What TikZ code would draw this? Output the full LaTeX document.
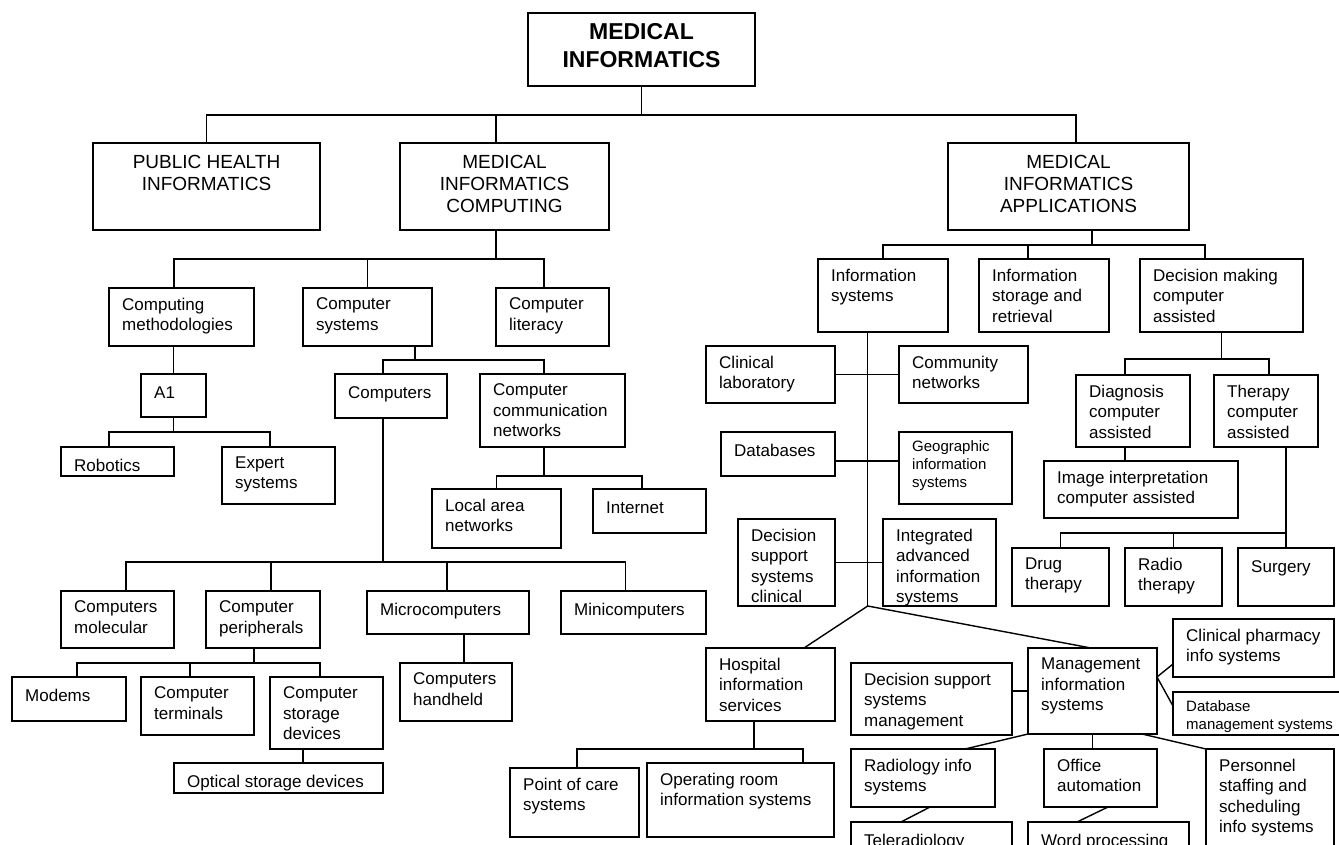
\documentclass[tikz,border=0pt]{standalone}
\usepackage{fontspec}
\setmainfont{Liberation Sans}
\newcommand{\fntN}{\fontsize{17}{20.5}\selectfont}
\newcommand{\fntS}{\fontsize{15}{18}\selectfont}
\newcommand{\fntH}{\fontsize{19}{22}\selectfont}
\newcommand{\fntT}{\bfseries\fontsize{23}{28}\selectfont}
\tikzset{
  box/.style={draw, line width=1.4pt, inner sep=0pt, outer sep=0pt, anchor=north west},
  lbl/.style={anchor=north west, inner sep=0pt, xshift=13pt, yshift=-9.6pt, align=left, font=\fntN, execute at begin node=\strut},
  lbs/.style={anchor=north west, inner sep=0pt, xshift=13pt, yshift=-8.6pt, align=left, font=\fntS, execute at begin node=\strut},
  hdl/.style={anchor=north, inner sep=0pt, yshift=-11.6pt, align=center, font=\fntH, execute at begin node=\strut},
  ttl/.style={anchor=north, inner sep=0pt, yshift=-10.1pt, align=center, font=\fntT, execute at begin node=\strut},
  con/.style={line width=1.4pt}
}
% box with top-left text: [label style]{name}{x1}{y1}{x2}{y2}{text}
\newcommand{\bx}[7][lbl]{\node[box, minimum width={(#5-#3)*1pt}, minimum height={(#6-#4)*1pt}, label={[#1]north west:{#7}}] (#2) at (#3pt,-#4pt) {};}
% box with centred heading text
\newcommand{\tb}[7][hdl]{\node[box, minimum width={(#5-#3)*1pt}, minimum height={(#6-#4)*1pt}, label={[#1]north:{#7}}] (#2) at (#3pt,-#4pt) {};}
\begin{document}
\begin{tikzpicture}
\useasboundingbox (0,0) rectangle (1339pt,-845pt);
\fill[white] (0,0) rectangle (1339pt,-845pt);
\clip (0,0) rectangle (1339pt,-845pt);

% ---------- top levels ----------
\tb[ttl]{mi}{528}{13}{755}{86}{MEDICAL\\INFORMATICS}
\tb{ph}{93}{143}{320}{230}{PUBLIC HEALTH\\INFORMATICS}
\tb{mic}{400}{143}{609}{230}{MEDICAL\\INFORMATICS\\COMPUTING}
\tb{mia}{948}{143}{1189}{230}{MEDICAL\\INFORMATICS\\APPLICATIONS}

% ---------- computing branch ----------
\bx{cm}{109}{288}{254}{346}{Computing\\methodologies}
\bx{cs}{303}{288}{432}{346}{Computer\\systems}
\bx{cl}{496}{288}{609}{346}{Computer\\literacy}
\bx{a1}{141}{374}{206}{417}{A1}
\bx{rob}{61}{447}{174}{476}{Robotics}
\bx{exp}{222}{447}{335}{504}{Expert\\systems}
\bx{comp}{335}{374}{447}{418}{Computers}
\bx{ccn}{480}{374}{625}{447}{Computer\\communication\\networks}
\bx{lan}{432}{489}{561}{548}{Local area\\networks}
\bx{inet}{593}{489}{706}{533}{Internet}
\bx{cmol}{61}{591}{174}{648}{Computers\\molecular}
\bx{cper}{206}{591}{320}{648}{Computer\\peripherals}
\bx{micro}{367}{591}{529}{634}{Microcomputers}
\bx{mini}{561}{591}{706}{634}{Minicomputers}
\bx{modems}{12}{677}{126}{721}{Modems}
\bx{cterm}{141}{677}{254}{735}{Computer\\terminals}
\bx{cstor}{270}{677}{383}{749}{Computer\\storage\\devices}
\bx{optical}{174}{763}{383}{793}{Optical storage devices}
\bx{hand}{400}{663}{512}{721}{Computers\\handheld}

% ---------- applications branch ----------
\bx{is}{818}{259}{948}{332}{Information\\systems}
\bx{isr}{979}{259}{1109}{332}{Information\\storage and\\retrieval}
\bx{dm}{1140}{259}{1303}{332}{Decision making\\computer\\assisted}
\bx{clab}{706}{346}{835}{403}{Clinical\\laboratory}
\bx{comm}{899}{346}{1028}{403}{Community\\networks}
\bx{db}{721}{432}{835}{476}{Databases}
\bx[lbs]{geo}{899}{432}{1012}{504}{Geographic\\information\\systems}
\bx{dssc}{738}{519}{835}{606}{Decision\\support\\systems\\clinical}
\bx{integ}{883}{519}{996}{606}{Integrated\\advanced\\information\\systems}
\bx{hosp}{706}{648}{835}{721}{Hospital\\information\\services}
\bx{poc}{510}{768}{639}{837}{Point of care\\systems}
\bx{orm}{647}{763}{834}{837}{Operating room\\information systems}
\bx{dssm}{851}{663}{1012}{735}{Decision support\\systems\\management}
\bx{mis}{1028}{648}{1157}{734}{Management\\information\\systems}
\bx{cp}{1173}{619}{1334}{677}{Clinical pharmacy\\info systems}
\bx[lbs]{dbm}{1173}{692}{1345}{735}{Database\\management systems}
\bx{rad}{851}{749}{995}{807}{Radiology info\\systems}
\bx{off}{1044}{749}{1157}{807}{Office\\automation}
\bx{pers}{1206}{749}{1334}{870}{Personnel\\staffing and\\scheduling\\info systems}
\bx{tele}{851}{822}{1012}{880}{Teleradiology}
\bx{wp}{1028}{822}{1189}{880}{Word processing}
\bx{diagc}{1076}{375}{1190}{447}{Diagnosis\\computer\\assisted}
\bx{ther}{1214}{375}{1318}{447}{Therapy\\computer\\assisted}
\bx{img}{1044}{461}{1238}{518}{Image interpretation\\computer assisted}
\bx{drug}{1012}{548}{1109}{606}{Drug\\therapy}
\bx{radio}{1125}{548}{1222}{606}{Radio\\therapy}
\bx{surg}{1238}{548}{1334}{606}{Surgery}

% ---------- connectors ----------
\begin{scope}[con]
% top
\draw (mi.south) -- ++(0,-29pt);
\draw (ph.north) -- ++(0,28pt) -| ([xshift=7.5pt]mia.north);
\draw ([xshift=-8.5pt]mic.north) -- ++(0,28pt);
% computing
\draw ([xshift=-8.5pt]mic.south) -- ++(0,-29pt);
\draw ([xshift=-7.5pt]cm.north) -- ++(0,29pt) -| ([xshift=-8.5pt]cl.north);
\draw (cs.north) -- ++(0,29pt);
\draw (a1.north) -- (a1.north |- cm.south);
\draw (a1.south) -- ++(0,-15pt);
\draw ([xshift=-8.5pt]rob.north) -- ++(0,15pt) -| ([xshift=-8.5pt]exp.north);
\draw ([xshift=47.5pt]cs.south) -- ++(0,-14pt);
\draw ([xshift=-8pt]comp.north) -- ++(0,14pt) -| ([xshift=-8.5pt]ccn.north);
\draw ([xshift=-8.5pt]ccn.south) -- ++(0,-29pt);
\draw (lan.north) -- ++(0,13pt) -| ([xshift=-7.5pt]inet.north);
\draw ([xshift=-8pt]comp.south) -- ++(0,-144pt);
\draw ([xshift=8.5pt]cmol.north) -- ++(0,29pt) -| ([xshift=-8pt]mini.north);
\draw ([xshift=8pt]cper.north) -- ++(0,29pt);
\draw ([xshift=-1pt]micro.north) -- ++(0,29pt);
\draw ([xshift=-9pt]cper.south) -- ++(0,-15pt);
\draw ([xshift=8pt]modems.north) -- ++(0,14pt) -| ([xshift=-6.5pt]cstor.north);
\draw ([xshift=-7.5pt]cterm.north) -- ++(0,14pt);
\draw ([xshift=-23.5pt]cstor.south) -- ([xshift=24.5pt]optical.north);
\draw ([xshift=16pt]micro.south) -- ([xshift=8pt]hand.north);
% applications
\draw ([xshift=23.5pt]mia.south) -- ++(0,-15pt);
\draw (is.north) -- ++(0,14pt) -| ([xshift=-16.5pt]dm.north);
\draw ([xshift=-16pt]isr.north) -- ++(0,14pt);
\draw ([xshift=-15.3pt]is.south) -- ++(0,-274pt) coordinate (trunk);
\draw (clab.east) -- (comm.west);
\draw ([yshift=-7pt]db.east) -- ([yshift=7pt]geo.west);
\draw (dssc.east) -- (integ.west);
\draw (trunk) -- ([xshift=33.5pt]hosp.north);
\draw (trunk) -- ([xshift=-1.5pt]mis.north);
\draw ([xshift=-16.5pt]hosp.south) -- ++(0,-28pt);
\draw ([xshift=2.5pt]poc.north) -- ++(0,19pt) -| ([xshift=62.5pt]orm.north);
\draw (mis.west) -- (mis.west -| dssm.east);
\draw ([yshift=-16pt]cp.west) -- ([yshift=14pt]mis.east) -- ([yshift=7.5pt]dbm.west);
\draw (mis.south west) -- ([xshift=42pt]rad.north);
\draw (mis.south) -- (mis.south |- off.north);
\draw ([xshift=49.5pt]mis.south) -- (pers.north west);
\draw ([xshift=7pt]rad.south) -- ([xshift=-30.5pt]tele.north);
\draw ([xshift=7.5pt]off.south) -- ([xshift=-31.5pt]wp.north);
\draw (dm.south) -- ++(0,-27pt);
\draw ([xshift=-8pt]diagc.north) -- ++(0,16pt) -| ([xshift=3pt]ther.north);
\draw ([xshift=-8pt]diagc.south) -- ([xshift=-16pt]img.north);
\draw ([xshift=20pt]ther.south) -- (surg.north);
\draw (drug.north) -- ++(0,15pt) -| (surg.north);
\draw (radio.north) -- ++(0,15pt);
\end{scope}
\end{tikzpicture}
\end{document}
